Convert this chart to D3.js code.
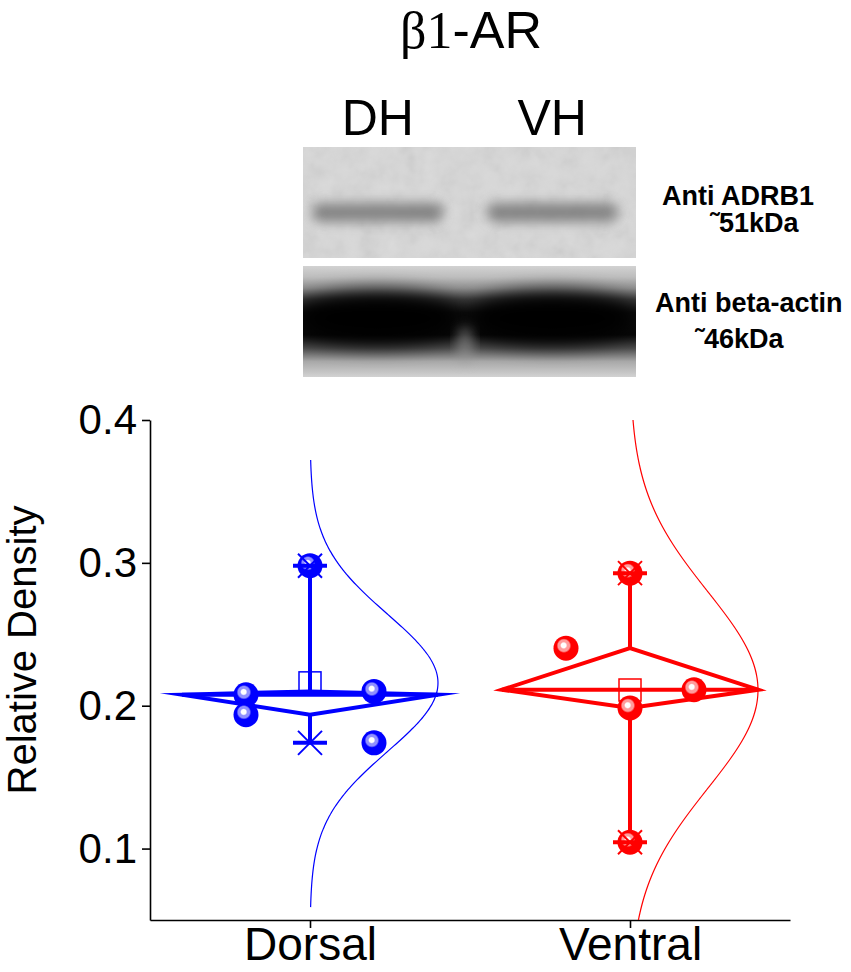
<!DOCTYPE html>
<html>
<head>
<meta charset="utf-8">
<script src="https://cdn.jsdelivr.net/npm/d3@7"></script>
<style>
  body { margin: 0; background: #fff; }
  text { font-family: "Liberation Sans", Arial, sans-serif; }
</style>
</head>
<body>
<script>
// groups and raw points
const groups = ["Dorsal", "Ventral"];
const dorsalValues = [0.298, 0.2077, 0.1937, 0.2100, 0.174];
const dorsalOffsets = [0, -0.2, -0.2, 0.2, 0.2];
const ventralValues = [0.2928, 0.1044, 0.2403, 0.2112, 0.1984];
const ventralOffsets = [0, 0, -0.2, 0.2, 0];

// box statistics read from the diamonds / whiskers
const boxMin = [0.174, 0.1044];
const boxQ1 = [0.1937, 0.1984];
const boxMedian = [0.2077, 0.2112];
const boxQ3 = [0.2100, 0.2403];
const boxMax = [0.298, 0.2928];
const boxMean = [0.216, 0.211];

// normal curves
const curveSd = [0.048, 0.069];
const curveFrom = [0.059, 0.05];
const curveTo = [0.372, 0.4];

const yTicks = [0.1, 0.2, 0.3, 0.4];
const colors = ["#0000ff", "#ff0000"];
const lightColors = ["#9090ff", "#ff9c9c"];

// blot
const lanes = ["DH", "VH"];
const blotNames = ["Anti ADRB1", "Anti beta-actin"];
const blotWeights = ["\u02dc51kDa", "\u02dc46kDa"];

const W = 851, H = 972;
const svg = d3.select("body").append("svg")
  .attr("width", W)
  .attr("height", H);

const defs = svg.append("defs");

// ---------- title ----------
const title = svg.append("text")
  .attr("x", 471)
  .attr("y", 48)
  .attr("text-anchor", "middle")
  .attr("font-size", 52);
title.append("tspan").attr("font-family", "'Liberation Serif', 'Times New Roman', serif").text("\u03b21");
title.append("tspan").text("-AR");

// ---------- blot ----------
const lane = d3.scaleBand().domain(lanes).range([308, 622]).paddingInner(0.2);
const blotX0 = 303, blotX1 = 636;
const top1 = 147, bot1 = 258, top2 = 266, bot2 = 377;

svg.selectAll(".lane-label")
  .data(lanes)
  .join("text")
  .attr("x", d => lane(d) + lane.bandwidth() / 2)
  .attr("y", 135)
  .attr("text-anchor", "middle")
  .attr("font-size", 50)
  .text(d => d);

const blur6 = defs.append("filter").attr("id", "blur6")
  .attr("x", "-30%").attr("y", "-100%").attr("width", "160%").attr("height", "300%");
blur6.append("feGaussianBlur").attr("stdDeviation", 6);
const blur10 = defs.append("filter").attr("id", "blur10")
  .attr("x", "-30%").attr("y", "-80%").attr("width", "160%").attr("height", "260%");
blur10.append("feGaussianBlur").attr("stdDeviation", 10);

const noise = defs.append("filter").attr("id", "noise");
noise.append("feTurbulence").attr("type", "fractalNoise")
  .attr("baseFrequency", 0.05).attr("numOctaves", 3).attr("seed", 7);
noise.append("feColorMatrix").attr("type", "saturate").attr("values", 0);

const clip1 = defs.append("clipPath").attr("id", "clip1");
clip1.append("rect").attr("x", blotX0).attr("y", top1).attr("width", blotX1 - blotX0).attr("height", bot1 - top1);
const clip2 = defs.append("clipPath").attr("id", "clip2");
clip2.append("rect").attr("x", blotX0).attr("y", top2).attr("width", blotX1 - blotX0).attr("height", bot2 - top2);

const bg2 = defs.append("linearGradient").attr("id", "bg2")
  .attr("x1", 0).attr("y1", 0).attr("x2", 0).attr("y2", 1);
[[0, "#d2d2d2"], [0.1, "#bdbdbd"], [0.2, "#8e8e8e"], [0.3, "#3c3c3c"], [0.42, "#0e0e0e"],
 [0.62, "#080808"], [0.74, "#4a4a4a"], [0.86, "#a8a8a8"], [1, "#d2d2d2"]]
  .forEach(s => bg2.append("stop").attr("offset", s[0]).attr("stop-color", s[1]));

const p1 = svg.append("g").attr("clip-path", "url(#clip1)");
p1.append("rect").attr("x", blotX0).attr("y", top1).attr("width", blotX1 - blotX0).attr("height", bot1 - top1)
  .attr("fill", "#d8d8d8");
p1.append("rect").attr("x", blotX0).attr("y", top1).attr("width", blotX1 - blotX0).attr("height", bot1 - top1)
  .attr("filter", "url(#noise)").attr("opacity", 0.22);
p1.selectAll(".band1")
  .data(lanes)
  .join("rect")
  .attr("x", d => lane(d) + 4)
  .attr("width", lane.bandwidth() - 8)
  .attr("y", 203)
  .attr("height", 19)
  .attr("rx", 9)
  .attr("fill", "#707070")
  .attr("opacity", 0.8)
  .attr("filter", "url(#blur6)");

const p2 = svg.append("g").attr("clip-path", "url(#clip2)");
p2.append("rect").attr("x", blotX0).attr("y", top2).attr("width", blotX1 - blotX0).attr("height", bot2 - top2)
  .attr("fill", "url(#bg2)");
p2.selectAll(".band2")
  .data(lanes)
  .join("ellipse")
  .attr("cx", d => lane(d) + lane.bandwidth() / 2)
  .attr("rx", lane.bandwidth() / 2 + 14)
  .attr("cy", 318)
  .attr("ry", 26)
  .attr("fill", "#000")
  .attr("filter", "url(#blur10)");
p2.append("ellipse")
  .attr("cx", lane("DH") + lane.bandwidth() + lane.step() * 0.1)
  .attr("rx", 9)
  .attr("cy", 345).attr("ry", 18)
  .attr("fill", "#9a9a9a").attr("opacity", 0.55)
  .attr("filter", "url(#blur6)");

const blotY = [[205, 232], [312, 348]];
const blotXs = [[662, 710], [655, 695]];
blotNames.forEach((name, i) => {
  svg.append("text").attr("x", blotXs[i][0]).attr("y", blotY[i][0])
    .attr("font-size", 27).attr("font-weight", "bold").text(name);
  svg.append("text").attr("x", blotXs[i][1]).attr("y", blotY[i][1])
    .attr("font-size", 27).attr("font-weight", "bold").text(blotWeights[i]);
});

// ---------- plot ----------
const x = d3.scaleLinear().domain([0.5, 2.5]).range([150, 790]);
const y = d3.scaleLinear().domain([0.05, 0.4]).range([920, 420]);

const yAxis = svg.append("g")
  .attr("transform", "translate(150,0)")
  .call(d3.axisLeft(y).tickValues(yTicks).tickSize(8).tickSizeOuter(0).tickPadding(5)
    .tickFormat(d3.format(".1f")));
yAxis.selectAll("text").attr("font-size", 42).attr("font-family", "'Liberation Sans', Arial, sans-serif")
  .attr("fill", "#000");

const xAxis = svg.append("g")
  .attr("transform", "translate(0,920)")
  .call(d3.axisBottom(x).tickValues([1, 2]).tickSize(8).tickSizeOuter(0)
    .tickFormat((d, i) => groups[i]));
xAxis.selectAll("text").attr("font-size", 46).attr("font-family", "'Liberation Sans', Arial, sans-serif")
  .attr("fill", "#000").attr("dy", null).attr("y", 40);

[yAxis, xAxis].forEach(a => {
  a.select(".domain").attr("stroke", "#000").attr("stroke-width", 1.6);
  a.selectAll(".tick line").attr("stroke", "#000").attr("stroke-width", 1.6);
});

svg.append("text")
  .attr("transform", "rotate(-90)")
  .attr("x", -650)
  .attr("y", 36)
  .attr("text-anchor", "middle")
  .attr("font-size", 40)
  .text("Relative Density");

// dot gradients
colors.forEach((c, i) => {
  const g = defs.append("radialGradient").attr("id", "dot" + i)
    .attr("cx", 0.43).attr("cy", 0.42).attr("r", 0.52)
    .attr("fx", 0.4).attr("fy", 0.38);
  [[0, "#ffffff"], [0.18, "#ffffff"], [0.28, lightColors[i]], [0.44, lightColors[i]],
   [0.56, c], [1, c]]
    .forEach(s => g.append("stop").attr("offset", s[0]).attr("stop-color", s[1]));
});

const halfW = 0.4;
const values = [dorsalValues, ventralValues];
const offsets = [dorsalOffsets, ventralOffsets];

groups.forEach((name, i) => {
  const cx = i + 1;
  const c = colors[i];
  const g = svg.append("g");

  // normal curve
  const vs = d3.range(curveFrom[i], curveTo[i] + 1e-9, (curveTo[i] - curveFrom[i]) / 200);
  const curve = d3.line()
    .x(v => x(cx + halfW * Math.exp(-Math.pow(v - boxMean[i], 2) / (2 * curveSd[i] * curveSd[i]))))
    .y(v => y(v))
    .curve(d3.curveBasis);
  g.append("path")
    .attr("d", curve(vs))
    .attr("fill", "none")
    .attr("stroke", c)
    .attr("stroke-width", 1.2);

  // whiskers
  g.append("line")
    .attr("x1", x(cx)).attr("x2", x(cx))
    .attr("y1", y(boxQ3[i])).attr("y2", y(boxMax[i]))
    .attr("stroke", c).attr("stroke-width", 4);
  g.append("line")
    .attr("x1", x(cx)).attr("x2", x(cx))
    .attr("y1", y(boxQ1[i])).attr("y2", y(boxMin[i]))
    .attr("stroke", c).attr("stroke-width", 4);

  // diamond box
  const diamond = [
    [x(cx - halfW), y(boxMedian[i])],
    [x(cx), y(boxQ3[i])],
    [x(cx + halfW), y(boxMedian[i])],
    [x(cx), y(boxQ1[i])]
  ];
  g.append("path")
    .attr("d", d3.line()(diamond) + "Z")
    .attr("fill", "none")
    .attr("stroke", c)
    .attr("stroke-width", 4)
    .attr("stroke-linejoin", "miter")
    .attr("stroke-miterlimit", 20);
  g.append("line")
    .attr("x1", x(cx - halfW)).attr("x2", x(cx + halfW))
    .attr("y1", y(boxMedian[i])).attr("y2", y(boxMedian[i]))
    .attr("stroke", c).attr("stroke-width", 4);

  // mean square
  g.append("rect")
    .attr("x", x(cx) - 11).attr("y", y(boxMean[i]) - 11)
    .attr("width", 22).attr("height", 22)
    .attr("fill", "none").attr("stroke", c).attr("stroke-width", 1.5);

  // points
  g.selectAll(".pt")
    .data(values[i].map((v, k) => ({ v, o: offsets[i][k] })))
    .join("circle")
    .attr("cx", d => x(cx + d.o))
    .attr("cy", d => y(d.v))
    .attr("r", 12.5)
    .attr("fill", "url(#dot" + i + ")");

  // min / max markers
  [boxMin[i], boxMax[i]].forEach(v => {
    const m = g.append("g").attr("transform", `translate(${x(cx)},${y(v)})`);
    m.append("line").attr("x1", -17).attr("x2", 17).attr("y1", 0).attr("y2", 0)
      .attr("stroke", c).attr("stroke-width", 4);
    m.append("line").attr("x1", -12).attr("x2", 12).attr("y1", -12).attr("y2", 12)
      .attr("stroke", c).attr("stroke-width", 2);
    m.append("line").attr("x1", -12).attr("x2", 12).attr("y1", 12).attr("y2", -12)
      .attr("stroke", c).attr("stroke-width", 2);
  });
});
</script>
</body>
</html>
